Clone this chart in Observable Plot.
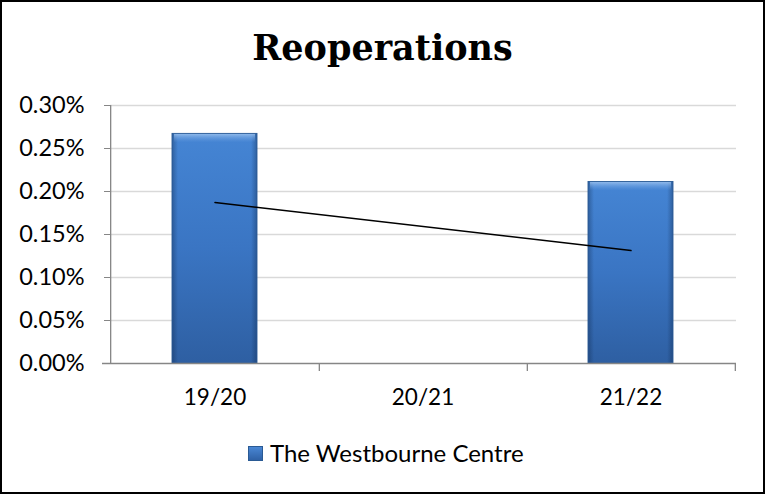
<!DOCTYPE html>
<html>
<head>
<meta charset="utf-8">
<script src="https://cdn.jsdelivr.net/npm/d3@7"></script>
<script src="https://cdn.jsdelivr.net/npm/@observablehq/plot@0.6"></script>
<style>
  html, body { margin: 0; padding: 0; background: #fff; }
  #wrap { position: relative; width: 765px; height: 494px; overflow: hidden; background: #fff; }
  #wrap svg.chart { position: absolute; left: 0; top: 0; }
  #frame { position: absolute; left: 0; top: 0; width: 765px; height: 494px; box-sizing: border-box; border: 2px solid #000; pointer-events: none; }
  #title { position: absolute; left: 0; width: 765px; top: 30px; text-align: center; font-family: "DejaVu Serif", serif; font-weight: bold; font-size: 35px; line-height: 35px; color: #000; }
  #legend { position: absolute; left: 248px; top: 440px; display: flex; align-items: center; font-family: Lato, sans-serif; font-size: 24px; color: #000; line-height: 26px; }
  #legend svg { margin-right: 7px; }
</style>
</head>
<body>
<div id="wrap">
  <div id="title">Reoperations</div>
  <div id="legend"></div>
  <div id="frame"></div>
</div>
<script>
const categories = ["19/20", "20/21", "21/22"];
const values = [0.267, 0, 0.211]; // percent
const yTicks = [0, 0.05, 0.10, 0.15, 0.20, 0.25, 0.30];
const seriesName = "The Westbourne Centre";
const chartTitle = "Reoperations";

const data = categories.map((c, i) => ({cat: c, value: values[i]}));
const shown = data.filter(d => d.value > 0);

// linear trendline (least squares over category index)
const n = values.length;
const mi = d3.mean(values, (v, i) => i);
const mv = d3.mean(values);
const slope = d3.sum(values, (v, i) => (i - mi) * (v - mv)) / d3.sum(values, (v, i) => (i - mi) ** 2);
const trend = [0, n - 1].map(i => ({cat: categories[i], value: mv + slope * (i - mi)}));

const W = 765, H = 494, mL = 110, mR = 29, mT = 105, mB = 131;
const step = (W - mL - mR) / categories.length;
const fmt = d => d.toFixed(2) + "%";

const chart = Plot.plot({
  width: W, height: H,
  marginLeft: mL, marginRight: mR, marginTop: mT, marginBottom: mB,
  style: {fontFamily: "Lato, sans-serif", fontSize: "22px", color: "#000", background: "transparent"},
  x: {domain: categories, paddingInner: 0.59, paddingOuter: 0.295, axis: null},
  y: {domain: [0, 0.30], axis: null},
  marks: [
    Plot.ruleY(yTicks.slice(1), {stroke: "#d9d9d9", strokeWidth: 1.3}),
    Plot.barY(shown, {x: "cat", y: "value", fill: "url(#barGrad)"}),
    Plot.barY(shown, {x: "cat", y: "value", fill: "url(#edgeGrad)"}),
    Plot.barY(shown, {x: "cat", y1: "value", y2: "value", insetBottom: -9, insetLeft: 2, insetRight: 2, fill: "url(#topGrad)"}),
    Plot.barY(shown, {x: "cat", y: "value", fill: "none", stroke: "#2a5a94", strokeWidth: 0.9}),
    Plot.ruleY([0], {stroke: "#868686", strokeWidth: 1.3, insetLeft: -8}),
    Plot.ruleX([categories[0]], {y1: 0, y2: 0.30, dx: -step / 2, stroke: "#868686", strokeWidth: 1.3}),
    Plot.ruleX(categories, {y1: 0, y2: 0, insetBottom: -8, dx: step / 2, stroke: "#868686", strokeWidth: 1.3}),
    Plot.axisY(yTicks, {tickFormat: fmt, tickSize: 6, tickPadding: 20, stroke: "#868686", fontSize: 23.5, label: null}),
    Plot.axisX({tickSize: 0, tickPadding: 26, fontSize: 22.5, label: null}),
    Plot.line(trend, {x: "cat", y: "value", stroke: "#000", strokeWidth: 1.5})
  ]
});
chart.classList.add("chart");

const ns = "http://www.w3.org/2000/svg";
const defs = document.createElementNS(ns, "defs");
defs.innerHTML = `
  <linearGradient id="barGrad" x1="0" y1="0" x2="0" y2="1">
    <stop offset="0" stop-color="#4585d4"/>
    <stop offset="0.5" stop-color="#3a75c3"/>
    <stop offset="1" stop-color="#2e5fa2"/>
  </linearGradient>
  <linearGradient id="edgeGrad" x1="0" y1="0" x2="1" y2="0">
    <stop offset="0" stop-color="#0a2040" stop-opacity="0.35"/>
    <stop offset="0.07" stop-color="#0a2040" stop-opacity="0"/>
    <stop offset="0.93" stop-color="#0a2040" stop-opacity="0"/>
    <stop offset="1" stop-color="#0a2040" stop-opacity="0.35"/>
  </linearGradient>
  <linearGradient id="topGrad" x1="0" y1="0" x2="0" y2="1">
    <stop offset="0" stop-color="#a9cbf2" stop-opacity="0.8"/>
    <stop offset="1" stop-color="#6fa2e3" stop-opacity="0"/>
  </linearGradient>`;
chart.insertBefore(defs, chart.firstChild);

const wrap = document.getElementById("wrap");
wrap.insertBefore(chart, wrap.firstChild);
document.getElementById("title").textContent = chartTitle;

document.getElementById("legend").innerHTML =
  `<svg width="15" height="15"><defs><linearGradient id="lg" x1="0" y1="0" x2="0" y2="1"><stop offset="0" stop-color="#4a88d6"/><stop offset="1" stop-color="#2e60a4"/></linearGradient></defs><rect x="0.5" y="0.5" width="14" height="14" fill="url(#lg)" stroke="#2a5a94"/></svg><span>${seriesName}</span>`;
</script>
</body>
</html>
